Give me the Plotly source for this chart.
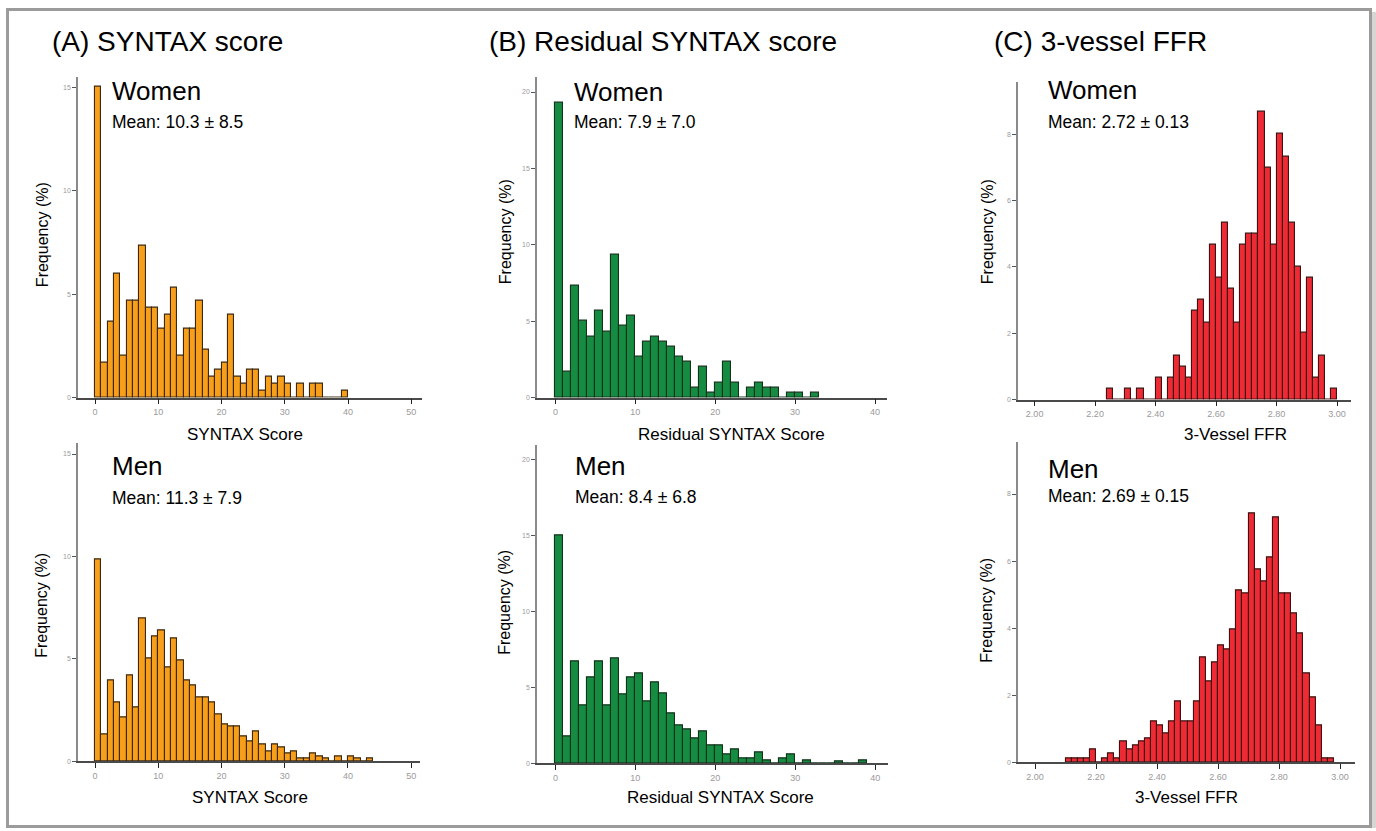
import plotly.graph_objects as go

# ---------------- data (frequency %) ----------------
# SYNTAX score, bins of width 1 starting at 0
syntax_women = [15.0, 1.67, 3.67, 6.0, 2.0, 4.67, 4.67, 7.33, 4.33, 4.33,
                3.33, 4.0, 5.33, 2.0, 3.33, 3.33, 4.67, 2.33, 1.0, 1.33,
                1.67, 4.0, 1.0, 0.67, 1.33, 1.33, 0.33, 1.0, 0.67, 1.0,
                0.67, 0.0, 0.67, 0.0, 0.67, 0.67, 0.0, 0.0, 0.0, 0.33]
syntax_men = [9.85, 1.31, 3.95, 2.87, 2.16, 4.2, 2.63, 6.97, 5.04, 6.09,
              6.37, 4.57, 5.98, 4.93, 3.95, 3.71, 3.13, 3.13, 2.87, 2.29,
              1.82, 1.70, 1.70, 1.22, 0.97, 1.44, 0.84, 0.47, 0.83, 0.70,
              0.36, 0.47, 0.13, 0.13, 0.37, 0.24, 0.13, 0.0, 0.24, 0.0,
              0.24, 0.13, 0.0, 0.13]

# Residual SYNTAX score, bins of width 1 starting at 0
rsyntax_women = [19.33, 1.67, 7.33, 5.0, 4.0, 5.67, 4.33, 9.33, 4.67, 5.33,
                 2.67, 3.67, 4.0, 3.67, 3.33, 2.67, 2.33, 0.67, 2.0, 0.33,
                 1.0, 2.33, 1.0, 0.0, 0.67, 1.0, 0.67, 0.67, 0.0, 0.33,
                 0.33, 0.0, 0.33]
rsyntax_men = [15.0, 1.75, 6.7, 3.83, 5.65, 6.7, 3.83, 6.94, 4.55, 5.65,
               5.95, 4.07, 5.34, 4.62, 3.3, 2.5, 2.25, 1.66, 2.12, 1.16,
               1.16, 0.57, 0.92, 0.31, 0.31, 0.7, 0.22, 0.0, 0.31, 0.57,
               0.0, 0.22, 0.0, 0.0, 0.0, 0.11, 0.0, 0.0, 0.22]

# 3-vessel FFR, bins of width 0.02
ffr_women_start = [2.24, 2.26, 2.28, 2.30, 2.32, 2.34, 2.36, 2.38, 2.40, 2.42,
                   2.44, 2.46, 2.48, 2.50, 2.52, 2.54, 2.56, 2.58, 2.60, 2.62,
                   2.64, 2.66, 2.68, 2.70, 2.72, 2.74, 2.76, 2.78, 2.80, 2.82,
                   2.84, 2.86, 2.88, 2.90, 2.92, 2.94, 2.96, 2.98]
ffr_women = [0.33, 0.0, 0.0, 0.33, 0.0, 0.33, 0.0, 0.0, 0.67, 0.0,
             0.67, 1.33, 1.0, 0.67, 2.67, 3.0, 2.33, 4.67, 3.67, 5.33,
             3.33, 2.33, 4.67, 5.0, 5.0, 8.67, 7.0, 4.67, 8.0, 7.33,
             5.33, 4.0, 2.0, 3.67, 0.67, 1.33, 0.0, 0.33]
ffr_men_start = [2.10, 2.12, 2.14, 2.16, 2.18, 2.20, 2.22, 2.24, 2.26, 2.28,
                 2.30, 2.32, 2.34, 2.36, 2.38, 2.40, 2.42, 2.44, 2.46, 2.48,
                 2.50, 2.52, 2.54, 2.56, 2.58, 2.60, 2.62, 2.64, 2.66, 2.68,
                 2.70, 2.72, 2.74, 2.76, 2.78, 2.80, 2.82, 2.84, 2.86, 2.88,
                 2.90, 2.92, 2.94, 2.96]
ffr_men = [0.12, 0.12, 0.12, 0.12, 0.37, 0.0, 0.12, 0.25, 0.12, 0.61,
           0.37, 0.5, 0.61, 0.71, 1.21, 1.09, 0.86, 1.21, 1.8, 1.21,
           1.21, 1.8, 3.12, 2.4, 2.99, 3.49, 3.36, 3.95, 5.14, 5.04,
           7.43, 5.74, 5.4, 6.12, 7.3, 5.04, 5.04, 4.44, 3.83, 2.64,
           1.93, 1.09, 0.12, 0.12]

panel_titles = ["(A) SYNTAX score", "(B) Residual SYNTAX score", "(C) 3-vessel FFR"]
x_titles = ["SYNTAX Score", "Residual SYNTAX Score", "3-Vessel FFR"]
group_labels = ["Women", "Men"]
mean_labels = [["Mean: 10.3 ± 8.5", "Mean: 7.9 ± 7.0", "Mean: 2.72 ± 0.13"],
               ["Mean: 11.3 ± 7.9", "Mean: 8.4 ± 6.8", "Mean: 2.69 ± 0.15"]]

x_tickvals = [[0, 10, 20, 30, 40, 50], [0, 10, 20, 30, 40],
              [2.0, 2.2, 2.4, 2.6, 2.8, 3.0]]
x_ticktext = [["0", "10", "20", "30", "40", "50"], ["0", "10", "20", "30", "40"],
              ["2.00", "2.20", "2.40", "2.60", "2.80", "3.00"]]
y_tickvals = [[0, 5, 10, 15], [0, 5, 10, 15, 20], [0, 2, 4, 6, 8]]

# ---------------- layout geometry (pixels) ----------------
W, H = 1376, 831
FONT = "Liberation Sans, Arial, Helvetica, sans-serif"

def px(x):
    return x / W

def py(y):
    return 1 - y / H

# (left, right, top, bottom) in pixels, xrange, yrange
panels = [
    [dict(box=(78, 422, 77, 399), xr=[-2.7, 51.7], yr=[0, 15.5]),
     dict(box=(537, 887, 77, 399), xr=[-2.3, 41.5], yr=[0, 21.0]),
     dict(box=(1018, 1351, 82, 401), xr=[1.945, 3.046], yr=[0, 9.58])],
    [dict(box=(78, 420, 445, 764), xr=[-2.7, 51.4], yr=[0, 15.52]),
     dict(box=(537, 888, 447, 766), xr=[-2.3, 41.6], yr=[0, 20.94]),
     dict(box=(1018, 1355, 444, 765), xr=[1.944, 3.049], yr=[0, 9.54])],
]

series = [
    [(list(range(len(syntax_women))), syntax_women, 1),
     (list(range(len(rsyntax_women))), rsyntax_women, 1),
     (ffr_women_start, ffr_women, 0.02)],
    [(list(range(len(syntax_men))), syntax_men, 1),
     (list(range(len(rsyntax_men))), rsyntax_men, 1),
     (ffr_men_start, ffr_men, 0.02)],
]

fills = ["rgb(247,158,27)", "rgb(22,140,66)", "rgb(238,42,52)"]
edges = ["rgb(60,40,12)", "rgb(18,50,26)", "rgb(60,18,18)"]

fig = go.Figure()
annotations = []

# group label / mean positions (pixels): (x, y_group, y_mean)
label_pos = [
    [(110, 91, 122), (572, 92, 122), (1046, 90, 122)],
    [(110, 468, 500), (573, 468, 499), (1046, 471, 498)],
]
ytitle_pos = [[(42, 236), (505, 233), (987, 233)],
              [(42, 608), (505, 605), (987, 613)]]
xtitle_pos = [[(245, 436), (731, 436), (1235, 436)],
              [(250, 800), (720, 800), (1186, 800)]]

idx = 0
for r in range(2):
    for c in range(3):
        idx += 1
        p = panels[r][c]
        l, rgt, t, b = p["box"]
        xa = "xaxis" if idx == 1 else f"xaxis{idx}"
        ya = "yaxis" if idx == 1 else f"yaxis{idx}"
        xref = "x" if idx == 1 else f"x{idx}"
        yref = "y" if idx == 1 else f"y{idx}"
        xs, ys, w = series[r][c]
        fig.add_trace(go.Bar(
            x=xs, y=ys, width=w, offset=0,
            marker=dict(color=fills[c], line=dict(color=edges[c], width=1.1)),
            xaxis=xref, yaxis=yref, showlegend=False, hoverinfo="x+y"))
        fig.update_layout(**{
            xa: dict(domain=[px(l), px(rgt)], anchor=yref, range=p["xr"],
                     showline=True, linecolor="#4a4a4a", linewidth=1.5,
                     ticks="outside", ticklen=5, tickwidth=1.2, tickcolor="#222",
                     tickvals=x_tickvals[c], ticktext=x_ticktext[c],
                     tickfont=dict(family=FONT, size=9, color="#9a9a9a"),
                     showgrid=False, zeroline=False, fixedrange=True),
            ya: dict(domain=[py(b), py(t)], anchor=xref, range=p["yr"],
                     showline=True, linecolor="#8a8a8a", linewidth=1.5,
                     ticks="outside", ticklen=4, tickwidth=1, tickcolor="#555",
                     tickvals=y_tickvals[c],
                     tickfont=dict(family=FONT, size=7, color="#9a9a9a"),
                     showgrid=False, zeroline=False, fixedrange=True),
        })
        gx, gy, my = label_pos[r][c]
        annotations.append(dict(x=px(gx), y=py(gy), xref="paper", yref="paper",
                                text=group_labels[r], showarrow=False,
                                xanchor="left", yanchor="middle",
                                font=dict(family=FONT, size=26, color="black")))
        annotations.append(dict(x=px(gx), y=py(my), xref="paper", yref="paper",
                                text=mean_labels[r][c], showarrow=False,
                                xanchor="left", yanchor="middle",
                                font=dict(family=FONT, size=17.5, color="black")))
        tx, ty = ytitle_pos[r][c]
        annotations.append(dict(x=px(tx), y=py(ty), xref="paper", yref="paper",
                                text="Frequency (%)", showarrow=False, textangle=-90,
                                xanchor="center", yanchor="middle",
                                font=dict(family=FONT, size=16, color="black")))
        tx, ty = xtitle_pos[r][c]
        annotations.append(dict(x=px(tx), y=py(ty), xref="paper", yref="paper",
                                text=x_titles[c], showarrow=False,
                                xanchor="center", yanchor="middle",
                                font=dict(family=FONT, size=17, color="black")))

title_x = [50, 487, 992]
for c in range(3):
    annotations.append(dict(x=px(title_x[c]), y=py(42), xref="paper", yref="paper",
                            text=panel_titles[c], showarrow=False,
                            xanchor="left", yanchor="middle",
                            font=dict(family=FONT, size=28, color="black")))

shapes = [
    dict(type="rect", xref="paper", yref="paper", x0=px(1372), x1=1, y0=0, y1=py(12),
         fillcolor="#d9d5d2", line=dict(width=0), layer="below"),
    dict(type="rect", xref="paper", yref="paper", x0=px(7.5), x1=px(1370.5),
         y0=py(829.5), y1=py(9.5), line=dict(color="#9b9b9b", width=3),
         fillcolor="rgba(0,0,0,0)", layer="below"),
]

fig.update_layout(width=W, height=H, margin=dict(l=0, r=0, t=0, b=0),
                  paper_bgcolor="white", plot_bgcolor="rgba(0,0,0,0)",
                  annotations=annotations, shapes=shapes, bargap=0,
                  font=dict(family=FONT))

fig.write_html("out.html", config={"displayModeBar": False},
               post_script="document.body.style.margin='0';"
                           "document.body.style.overflow='hidden';")
